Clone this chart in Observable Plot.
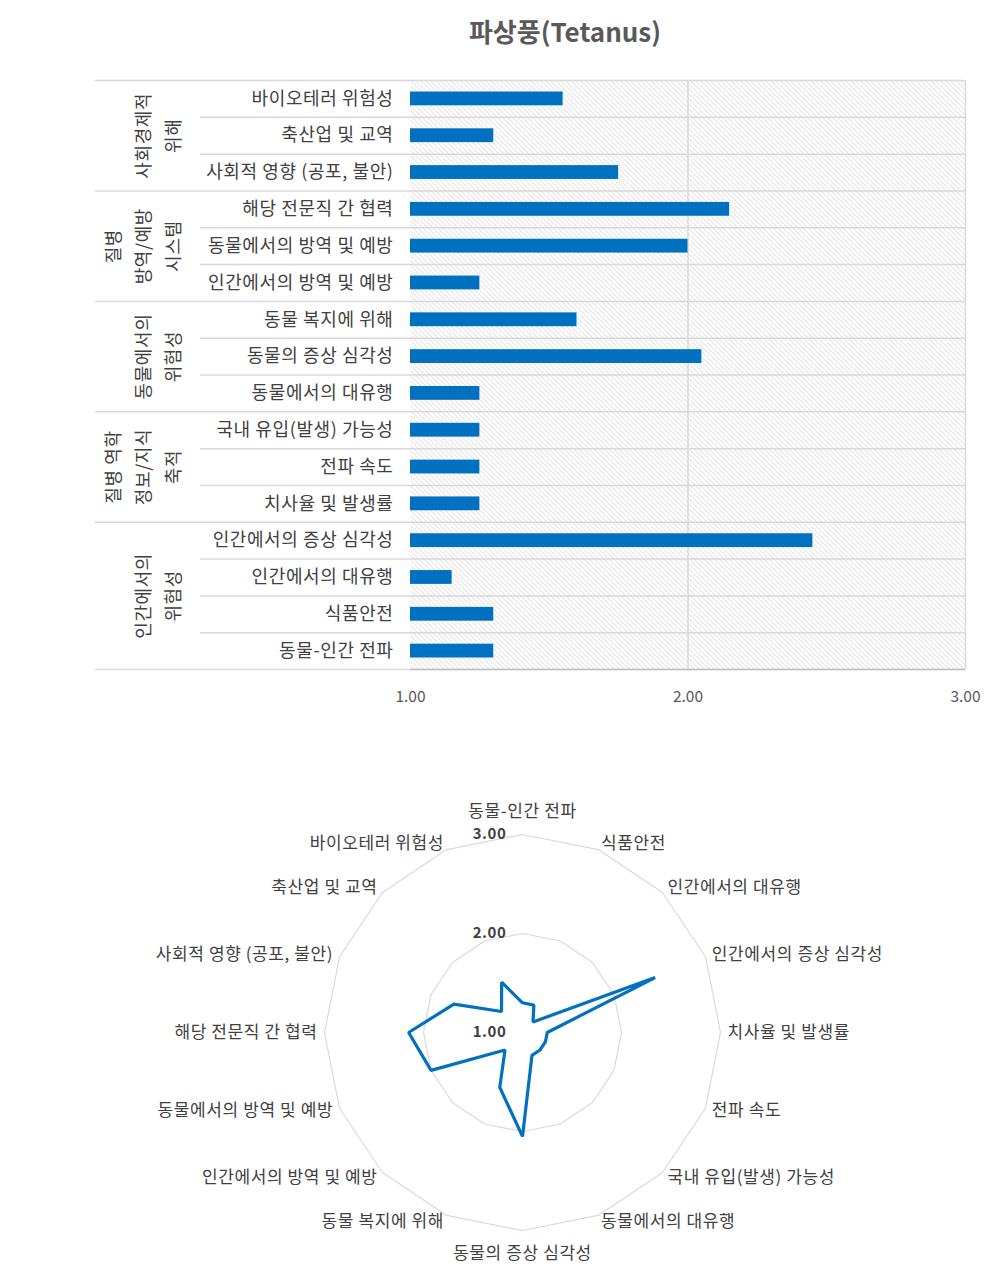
<!DOCTYPE html>
<html>
<head>
<meta charset="utf-8">
<script src="https://cdn.jsdelivr.net/npm/d3@7"></script>
<script src="https://cdn.jsdelivr.net/npm/@observablehq/plot@0.6"></script>
<style>
  html, body { margin: 0; padding: 0; background: #fff; }
  #wrap { position: relative; width: 996px; height: 1279px; font-family: "Noto Sans CJK KR", "Noto Sans", sans-serif; }
  #title { position: absolute; top: 14px; left: 365px; width: 400px; text-align: center;
           font-size: 26px; line-height: 34px; font-weight: bold; color: #595959; }
  svg { display: block; }
  svg g[aria-label="text"] text { letter-spacing: 0.6px; }
</style>
</head>
<body>
<div id="wrap"><div id="title"></div></div>
<script>
// ---- data (radar order, clockwise from top; bar chart shows it bottom-to-top) ----
const chartTitle = "파상풍(Tetanus)";
const categories = [
  "동물-인간 전파",
  "식품안전",
  "인간에서의 대유행",
  "인간에서의 증상 심각성",
  "치사율 및 발생률",
  "전파 속도",
  "국내 유입(발생) 가능성",
  "동물에서의 대유행",
  "동물의 증상 심각성",
  "동물 복지에 위해",
  "인간에서의 방역 및 예방",
  "동물에서의 방역 및 예방",
  "해당 전문직 간 협력",
  "사회적 영향 (공포, 불안)",
  "축산업 및 교역",
  "바이오테러 위험성"
];
const values = [1.30, 1.30, 1.15, 2.45, 1.25, 1.25, 1.25, 1.25, 2.05, 1.60, 1.25, 2.00, 2.15, 1.75, 1.30, 1.55];
const groupLabels = ["인간에서의\n위험성", "질병 역학\n정보/지식\n축적", "동물에서의\n위험성", "질병\n방역/예방\n시스템", "사회경제적\n위해"];
const groupSizes = [4, 3, 3, 3, 3];
const xTicks = [1, 2, 3];
const radarRings = [2, 3];
const radarTickValues = [1, 2, 3];
const radarMin = 1;

// ---- derived tables ----
document.getElementById("title").textContent = chartTitle;
const rows = categories.map((name, i) => ({name, value: values[i], i}));
let acc = 0;
const groups = groupLabels.map((label, k) => {
  const start = acc; acc += groupSizes[k];
  return {label, start, end: acc, mid: (start + acc) / 2};
});
const groupEdges = [0, ...groups.map(g => g.end)];
const innerEdges = d3.range(1, categories.length).filter(e => !groupEdges.includes(e));

const font = "'Noto Sans CJK KR', 'Noto Sans', sans-serif";
const grid = "#d9d9d9";
const blue = "#0070c0";
const textColor = "#404040";

// ---- bar chart ----
const bar = Plot.plot({
  width: 996, height: 720,
  marginLeft: 410, marginRight: 31, marginTop: 80, marginBottom: 51,
  x: {domain: [1, 3], axis: null, label: null},
  y: {domain: [0, categories.length], axis: null},
  style: {fontFamily: font, background: "transparent", overflow: "visible"},
  marks: [
    Plot.frame({fill: "url(#hatch)", stroke: null}),
    Plot.ruleX(xTicks.slice(1), {stroke: grid, strokeWidth: 1.5}),
    Plot.ruleY(innerEdges, {stroke: grid, strokeWidth: 1.5, insetLeft: -210}),
    Plot.ruleY(groupEdges, {stroke: grid, strokeWidth: 1.5, insetLeft: -315}),
    Plot.rectX(rows, {x1: () => 1, x2: "value", y: "i", interval: 1, insetTop: 11.5, insetBottom: 11.5, fill: blue}),
    Plot.ruleY([0], {stroke: "#bfbfbf", strokeWidth: 1.5}),
    Plot.axisX({ticks: xTicks, tickFormat: d3.format(".2f"), tickSize: 0, tickPadding: 21, fontSize: 15.5, color: "#595959", anchor: "bottom", label: null}),
    Plot.text(rows, {y: d => d.i + 0.5, text: "name", frameAnchor: "left", dx: -17, textAnchor: "end", fontSize: 18, fill: textColor}),
    Plot.text(groups, {y: "mid", text: "label", frameAnchor: "left", dx: -231, textAnchor: "middle", rotate: -90, lineAnchor: "bottom", lineHeight: 1.64, fontSize: 18, fill: textColor})
  ]
});
const defs = d3.select(bar).insert("defs", ":first-child");
const pat = defs.append("pattern").attr("id", "hatch").attr("patternUnits", "userSpaceOnUse")
  .attr("width", 5).attr("height", 5);
pat.append("rect").attr("width", 5).attr("height", 5).attr("fill", "#ffffff");
pat.append("path").attr("d", "M0,0L5,5M-1,4L1,6M4,-1L6,1").attr("stroke", "#d4d4d4").attr("stroke-width", 1);
document.getElementById("wrap").appendChild(bar);

// ---- radar chart ----
const n = categories.length;
const ang = i => 2 * Math.PI * i / n;
const pts = rows.map(d => ({...d, px: (d.value - radarMin) * Math.sin(ang(d.i)), py: (d.value - radarMin) * Math.cos(ang(d.i))}));
const rings = radarRings.flatMap(L => categories.map((c, i) => ({L, px: (L - radarMin) * Math.sin(ang(i)), py: (L - radarMin) * Math.cos(ang(i))})));
const labelR = (d3.max(radarRings) - radarMin) * 1.035;
const labels = categories.map((name, i) => ({name, i, s: Math.sin(ang(i)), px: labelR * Math.sin(ang(i)), py: labelR * Math.cos(ang(i))}));
const lab = {x: "px", y: "py", text: "name", fontSize: 17, fill: textColor};

const radar = Plot.plot({
  width: 996, height: 559,
  x: {domain: [-4, 4], range: [126, 918], axis: null},
  y: {domain: [-2.5, 2.5], range: [559.5, 64.5], axis: null},
  style: {fontFamily: font, background: "transparent", overflow: "visible"},
  marks: [
    Plot.line(rings, {x: "px", y: "py", z: "L", curve: "linear-closed", stroke: grid, strokeWidth: 1.2}),
    Plot.line(pts, {x: "px", y: "py", curve: "linear-closed", stroke: blue, strokeWidth: 3.2, strokeLinejoin: "miter"}),
    Plot.text(radarTickValues, {x: () => 0, y: d => d - radarMin, text: d3.format(".2f"), textAnchor: "end", dx: -16, fontSize: 15, fontWeight: "bold", fill: textColor}),
    Plot.text(labels.filter(d => d.s > 0.01), {...lab, textAnchor: "start"}),
    Plot.text(labels.filter(d => d.s < -0.01), {...lab, textAnchor: "end"}),
    Plot.text(labels.filter(d => Math.abs(d.s) <= 0.01 && d.py > 0), {...lab, lineAnchor: "bottom", dy: -11}),
    Plot.text(labels.filter(d => Math.abs(d.s) <= 0.01 && d.py < 0), {...lab, lineAnchor: "top", dy: 9})
  ]
});
document.getElementById("wrap").appendChild(radar);
</script>
</body>
</html>
